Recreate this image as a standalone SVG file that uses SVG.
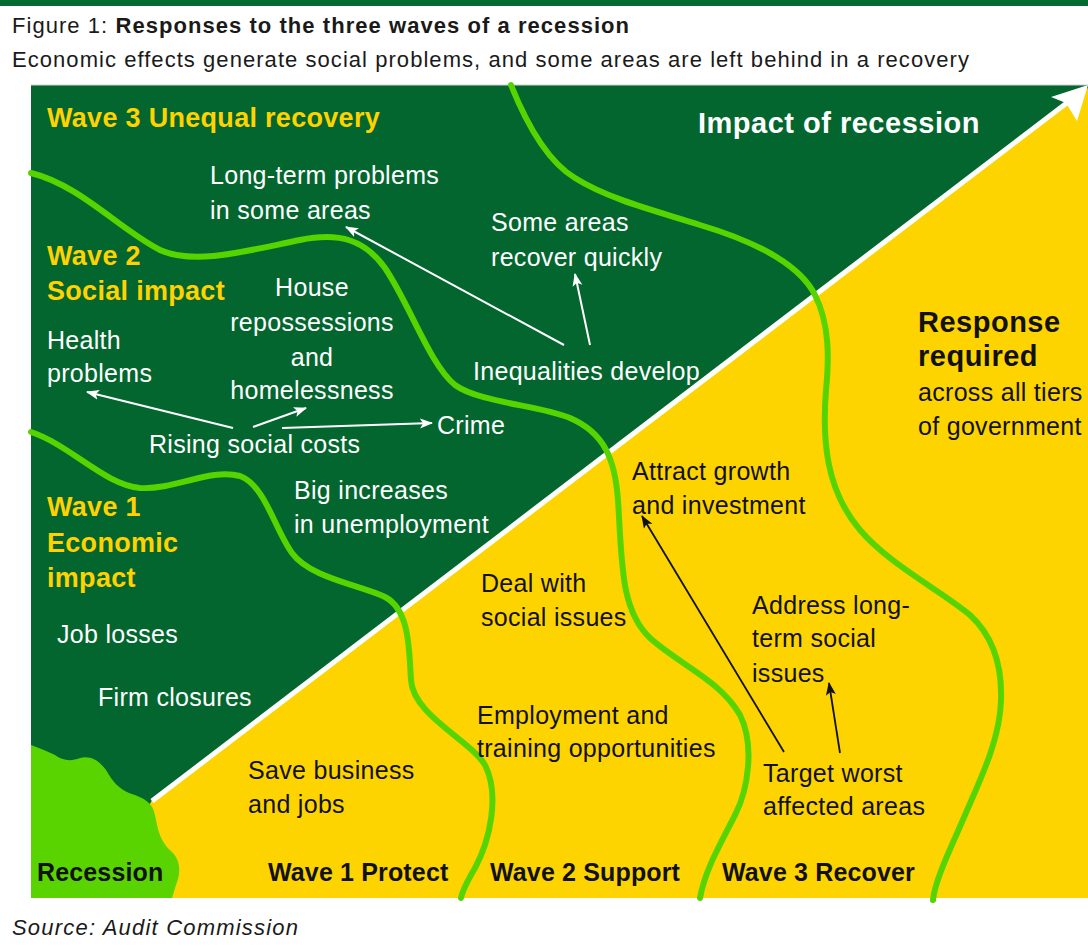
<svg xmlns="http://www.w3.org/2000/svg" width="1088" height="946" viewBox="0 0 1088 946">
  <style>
    text { font-family: "Liberation Sans", Arial, sans-serif; }
    .title { font-size: 22px; fill: #1a1a1a; letter-spacing: 1.05px; }
    .hdr { font-size: 27px; font-weight: bold; fill: #ffd200; letter-spacing: 0.3px; }
    .big { font-size: 29px; font-weight: bold; letter-spacing: 0.5px; }
    .w { font-size: 25px; fill: #ffffff; letter-spacing: 0.3px; }
    .k { font-size: 25px; fill: #111111; letter-spacing: 0.3px; }
    .lab { font-size: 25px; font-weight: bold; fill: #111111; letter-spacing: 0.15px; }
    .wave { fill: none; stroke: #55d400; stroke-width: 6; stroke-linecap: round; }
    .wa { fill: none; stroke: #ffffff; stroke-width: 2; }
    .ka { fill: none; stroke: #111111; stroke-width: 1.8; }
  </style>
  <defs>
    <marker id="hw" markerUnits="userSpaceOnUse" markerWidth="14" markerHeight="12" refX="12" refY="6" orient="auto">
      <path d="M0,1 L13,6 L0,11 L3,6 Z" fill="#ffffff"/>
    </marker>
    <marker id="hk" markerUnits="userSpaceOnUse" markerWidth="14" markerHeight="12" refX="12" refY="6" orient="auto">
      <path d="M0,1 L13,6 L0,11 L3,6 Z" fill="#111111"/>
    </marker>
  </defs>

  <!-- header -->
  <rect x="0" y="0" width="1088" height="6" fill="#046a31"/>
  <text class="title" x="12" y="33">Figure 1: <tspan font-weight="bold">Responses to the three waves of a recession</tspan></text>
  <text class="title" x="12" y="67">Economic effects generate social problems, and some areas are left behind in a recovery</text>

  <!-- panel background -->
  <g id="impact-area">
    <rect x="31" y="85" width="1057" height="813" fill="#03662f"/>
    <line x1="31" y1="85" x2="1088" y2="85" stroke="#cfcfcf" stroke-width="1"/>
  </g>
  <g id="response-area">
    <polygon points="152,800 1088,88 1088,898 100,898" fill="#fed400"/>
  </g>
  <g id="impact-axis">
    <line x1="152" y1="801" x2="1068" y2="102" stroke="#ffffff" stroke-width="5"/>
    <path d="M1088,85 L1051,97 L1066,103 L1077,121 Z" fill="#ffffff"/>
  </g>
  <g id="recession-blob">
    <path d="M31,745 C40,748 48,752 55,755 C62,760 70,762 80,758 C92,755 100,762 106,770 C112,780 118,790 135,795 C148,800 153,805 155,815 C158,830 160,842 172,852 C182,862 180,875 176,885 L172,898 L31,898 Z" fill="#5ad400"/>
  </g>

  <!-- wave boundaries -->
  <g id="wave-lines">
    <path class="wave" d="M31,432 C70,445 105,485 140,488 C175,490 210,468 240,476 C265,485 275,530 292,553 C310,578 360,585 385,597 C410,610 409,650 411,680 C413,715 470,740 485,765 C500,795 490,840 475,868 C465,885 462,893 461,898"/>
    <path class="wave" d="M31,173 C80,185 120,230 160,250 C195,266 250,250 300,240 C340,232 365,240 385,268 C410,305 430,365 455,385 C480,403 540,405 570,418 C605,433 615,460 618,500 C622,560 620,610 650,638 C680,665 720,680 740,715 C755,745 748,790 735,815 C720,845 705,870 700,898"/>
    <path class="wave" d="M511,85 C525,120 545,160 575,178 C610,200 660,212 700,225 C760,243 800,265 815,295 C830,325 829,360 826,390 C822,440 826,490 860,530 C890,565 940,590 970,615 C995,638 1002,670 1001,700 C1000,740 980,780 965,815 C950,850 935,880 933,900"/>
  </g>

  <!-- connectors -->
  <g id="connectors">
    <line class="wa" x1="564" y1="345" x2="346" y2="227" marker-end="url(#hw)"/>
    <line class="wa" x1="590" y1="345" x2="575" y2="274" marker-end="url(#hw)"/>
    <line class="wa" x1="233" y1="428" x2="87" y2="392" marker-end="url(#hw)"/>
    <line class="wa" x1="253" y1="427" x2="306" y2="408" marker-end="url(#hw)"/>
    <line class="wa" x1="282" y1="428" x2="432" y2="423" marker-end="url(#hw)"/>
    <line class="ka" x1="784" y1="752" x2="642" y2="516" marker-end="url(#hk)"/>
    <line class="ka" x1="840" y1="753" x2="829" y2="683" marker-end="url(#hk)"/>
  </g>

  <!-- headings -->
  <g id="wave3-heading"><text class="hdr" x="47" y="127">Wave 3 Unequal recovery</text></g>
  <g id="wave2-heading"><text class="hdr" x="47" y="265">Wave 2</text><text class="hdr" x="47" y="300">Social impact</text></g>
  <g id="wave1-heading"><text class="hdr" x="47" y="516">Wave 1</text><text class="hdr" x="47" y="552">Economic</text><text class="hdr" x="47" y="587">impact</text></g>
  <g id="impact-title"><text class="big" x="698" y="133" fill="#ffffff">Impact of recession</text></g>
  <g id="response-title">
    <text class="big" x="918" y="332" fill="#111111">Response</text>
    <text class="big" x="918" y="366" fill="#111111">required</text>
    <text class="k" x="918" y="401">across all tiers</text>
    <text class="k" x="918" y="435">of government</text>
  </g>

  <!-- impact nodes -->
  <g id="long-term-problems"><text class="w" x="210" y="184">Long-term problems</text><text class="w" x="210" y="219">in some areas</text></g>
  <g id="some-areas-recover"><text class="w" x="491" y="231">Some areas</text><text class="w" x="491" y="266">recover quickly</text></g>
  <g id="house-repossessions">
    <text class="w" x="312" y="296" text-anchor="middle">House</text>
    <text class="w" x="312" y="331" text-anchor="middle">repossessions</text>
    <text class="w" x="312" y="366" text-anchor="middle">and</text>
    <text class="w" x="312" y="399" text-anchor="middle">homelessness</text>
  </g>
  <g id="health-problems"><text class="w" x="47" y="349">Health</text><text class="w" x="47" y="382">problems</text></g>
  <g id="inequalities-develop"><text class="w" x="473" y="380">Inequalities develop</text></g>
  <g id="rising-social-costs"><text class="w" x="149" y="453">Rising social costs</text></g>
  <g id="crime"><text class="w" x="437" y="434">Crime</text></g>
  <g id="big-increases"><text class="w" x="294" y="499">Big increases</text><text class="w" x="294" y="533">in unemployment</text></g>
  <g id="job-losses"><text class="w" x="57" y="643">Job losses</text></g>
  <g id="firm-closures"><text class="w" x="98" y="706">Firm closures</text></g>

  <!-- response nodes -->
  <g id="attract-growth"><text class="k" x="632" y="480">Attract growth</text><text class="k" x="632" y="514">and investment</text></g>
  <g id="deal-social"><text class="k" x="481" y="592">Deal with</text><text class="k" x="481" y="626">social issues</text></g>
  <g id="address-long-term"><text class="k" x="752" y="614">Address long-</text><text class="k" x="752" y="647">term social</text><text class="k" x="752" y="682">issues</text></g>
  <g id="employment-training"><text class="k" x="477" y="724">Employment and</text><text class="k" x="477" y="757">training opportunities</text></g>
  <g id="save-business"><text class="k" x="248" y="779">Save business</text><text class="k" x="248" y="813">and jobs</text></g>
  <g id="target-worst"><text class="k" x="763" y="782">Target worst</text><text class="k" x="763" y="815">affected areas</text></g>

  <!-- column labels -->
  <g id="column-labels">
    <text class="lab" x="37" y="881">Recession</text>
    <text class="lab" x="268" y="881">Wave 1 Protect</text>
    <text class="lab" x="490" y="881">Wave 2 Support</text>
    <text class="lab" x="722" y="881">Wave 3 Recover</text>
  </g>

  <text x="12" y="935" font-size="22" font-style="italic" fill="#1a1a1a" letter-spacing="1.2" font-family="Liberation Sans, Arial, sans-serif">Source: Audit Commission</text>
</svg>
